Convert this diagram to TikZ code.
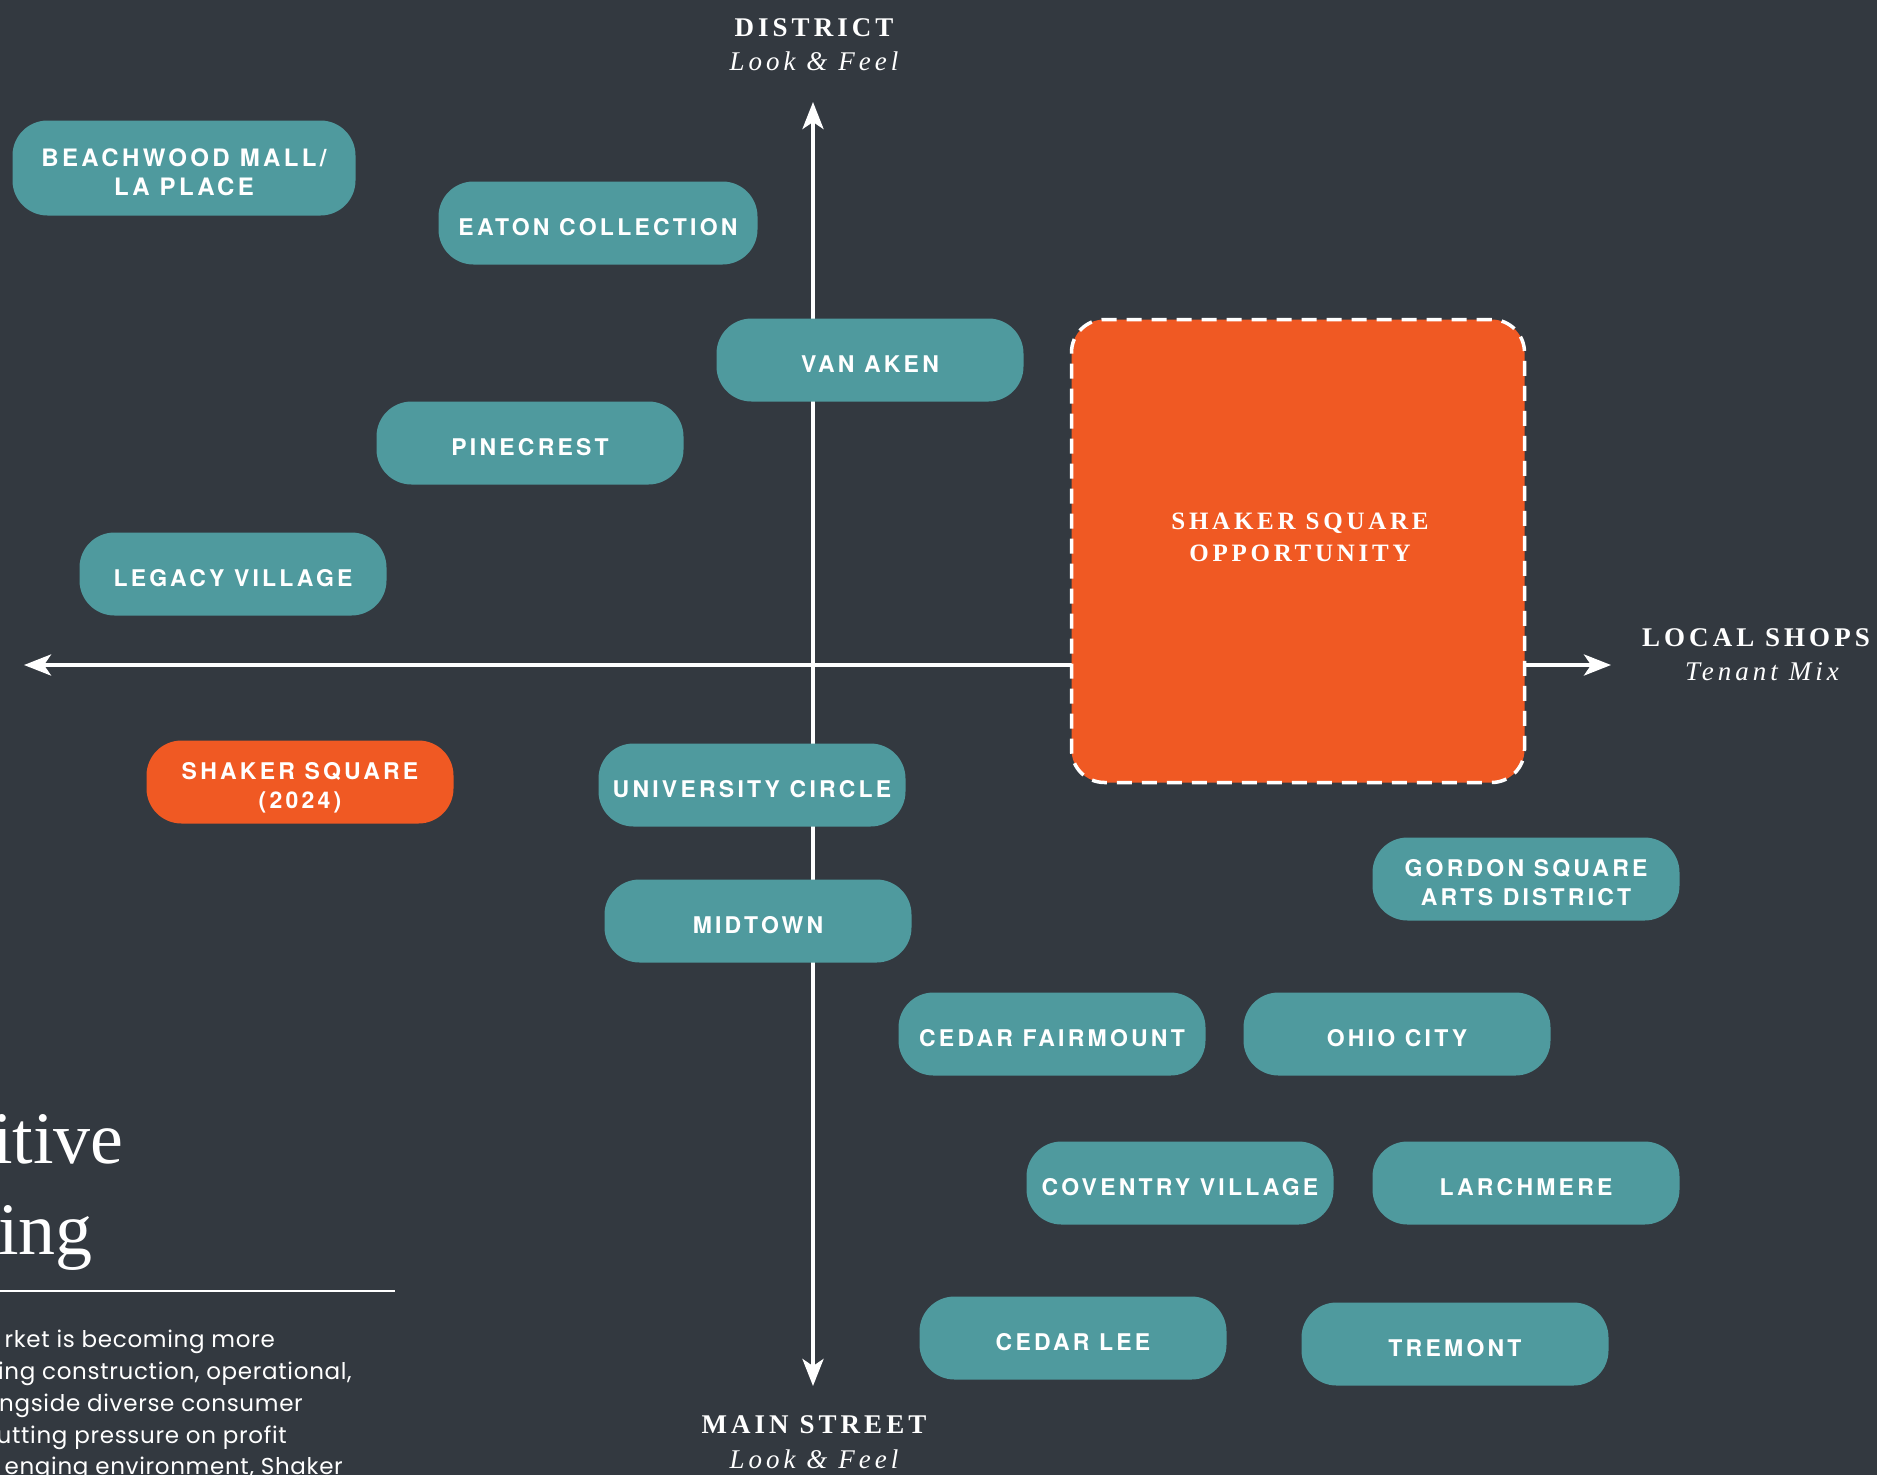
\documentclass[tikz,border=0pt]{standalone}
\usepackage{fontspec}
\usetikzlibrary{arrows.meta}

\newfontfamily\tagfont[LetterSpace=14]{TeX Gyre Heros}
\newfontfamily\bodyfont[LetterSpace=3]{Poppins}
\newfontfamily\capfont[LetterSpace=15]{Liberation Serif}
\newfontfamily\titlefont{Liberation Serif}

\definecolor{slate}{RGB}{51,57,64}
\definecolor{seafoam}{RGB}{79,154,158}
\definecolor{brick}{RGB}{240,89,35}

\tikzset{
  tag/.style={fill=seafoam, rounded corners=35pt, minimum width=307pt, minimum height=83pt,
    inner sep=0pt, text height=24pt, text depth=0pt, text=white, align=center,
    font=\tagfont\bfseries\fontsize{23}{29}\selectfont},
  twoline/.style={text height=53pt, text depth=0pt},
  hot/.style={tag, fill=brick},
  axis/.style={draw=white, line width=4pt,
    {Stealth[length=27pt,width=21pt,inset=7pt]}-{Stealth[length=27pt,width=21pt,inset=7pt]}},
  axiscap/.style={text=white, anchor=base, inner sep=0pt, font=\capfont\bfseries\fontsize{27}{32}\selectfont},
  axissub/.style={text=white, anchor=base, inner sep=0pt, font=\capfont\itshape\fontsize{27}{32}\selectfont},
  headline/.style={text=white, anchor=base east, inner sep=0pt, font=\titlefont\fontsize{74}{85}\selectfont},
  body/.style={text=white, anchor=base east, inner sep=0pt, font=\bodyfont\fontsize{23}{32}\selectfont}
}

\begin{document}
\begin{tikzpicture}[x=1pt, y=-1pt]
\useasboundingbox (0,0) rectangle (1877,1475);
\fill[slate] (0,0) rectangle (1877,1475);

% axes
\coordinate (top) at (813,102);
\coordinate (bottom) at (813,1386);
\coordinate (left) at (24,665);
\coordinate (right) at (1611,665);
\draw[axis] (bottom) -- (top);
\draw[axis] (left) -- (right);

% axis labels
\node[axiscap] (district) at (814,36) {DISTRICT};
\node[axissub] (districtsub) at (814,70) {Look \& Feel};
\node[axiscap] (local) at (1756,646) {LOCAL SHOPS};
\node[axissub] (localsub) at (1762,680) {Tenant Mix};
\node[axiscap] (main) at (814,1433) {MAIN STREET};
\node[axissub] (mainsub) at (814,1468) {Look \& Feel};

% opportunity box
\node[fill=brick, draw=white, line width=3.5pt, dash pattern=on 15pt off 10pt,
  rounded corners=33pt, minimum width=453pt, minimum height=463pt] (opportunity) at (1298,551) {};
\node[text=white, align=center, inner sep=0pt, font=\capfont\bfseries\fontsize{25}{32}\selectfont]
  (opplabel) at (1300,537) {SHAKER SQUARE\\OPPORTUNITY};

% districts
\node[tag, twoline, text height=54pt, minimum width=343pt, minimum height=95pt,
  font=\tagfont\bfseries\fontsize{24}{29}\selectfont]
  (beachwood) at (184,168) {BEACHWOOD MALL/\\LA PLACE};
\node[tag, minimum width=319pt] (eaton) at (598,223) {EATON COLLECTION};
\node[tag] (vanaken) at (870,360) {VAN AKEN};
\node[tag] (pinecrest) at (530,443) {PINECREST};
\node[tag] (legacy) at (233,574) {LEGACY VILLAGE};
\node[hot, twoline] (shaker) at (300,782) {SHAKER SQUARE\\(2024)};
\node[tag] (university) at (752,785) {UNIVERSITY CIRCLE};
\node[tag] (midtown) at (758,921) {MIDTOWN};
\node[tag, twoline] (gordon) at (1526,879) {GORDON SQUARE\\ARTS DISTRICT};
\node[tag] (fairmount) at (1052,1034) {CEDAR FAIRMOUNT};
\node[tag] (ohio) at (1397,1034) {OHIO CITY};
\node[tag] (coventry) at (1180,1183) {COVENTRY VILLAGE};
\node[tag] (larchmere) at (1526,1183) {LARCHMERE};
\node[tag] (cedarlee) at (1073,1338) {CEDAR LEE};
\node[tag] (tremont) at (1455,1344) {TREMONT};

% side text
\node[headline] (title1) at (124,1163) {itive};
\node[headline] (title2) at (93,1254) {ing};
\draw[white, line width=2.7pt] (0,1291) -- (395,1291);
\node[body] (body1) at (275,1347) {rket is becoming more};
\node[body] (body2) at (352,1379) {ing construction, operational,};
\node[body] (body3) at (303,1411) {ngside diverse consumer};
\node[body] (body4) at (287,1443) {utting pressure on profit};
\node[body] (body5) at (343,1474) {enging environment, Shaker};
\end{tikzpicture}
\end{document}
